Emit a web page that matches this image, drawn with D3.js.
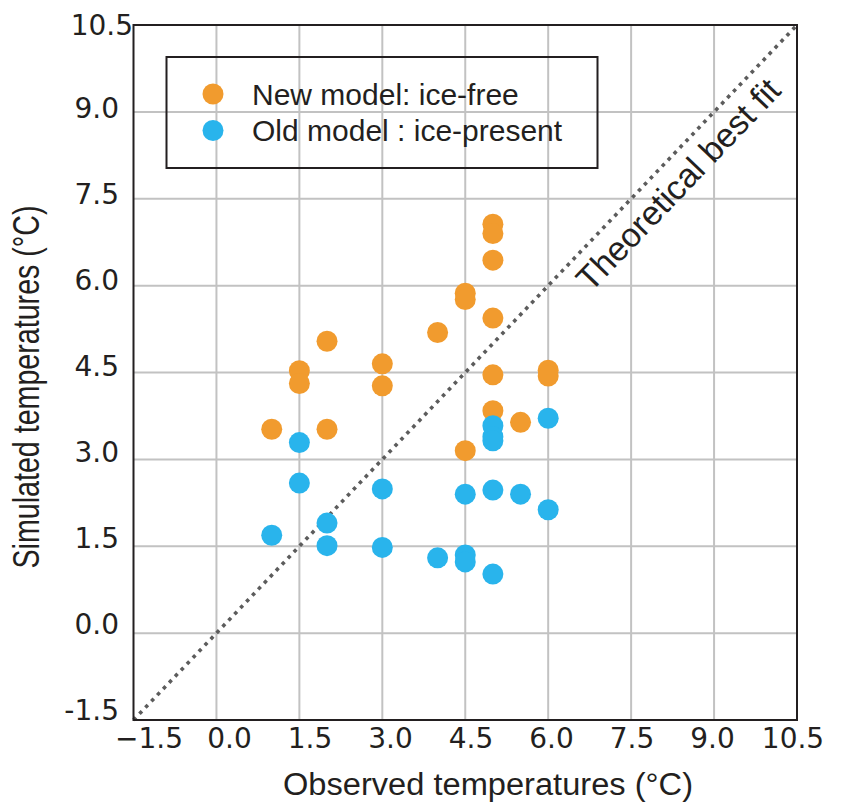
<!DOCTYPE html>
<html lang="en">
<head>
    <meta charset="UTF-8">
    <title>Observed vs simulated temperatures</title>
    <script src="https://d3js.org/d3.v7.min.js"></script>
    <style>
        body { margin: 0; background: #fff; }
        .tick-label { font-family: "DejaVu Sans", sans-serif; font-size: 28px; fill: #231f20; }
        .title { font-family: "Liberation Sans", Arial, sans-serif; fill: #231f20; }
        .grid { stroke: #c2c2c2; stroke-width: 2px; }
        .frame { stroke: #231f20; stroke-width: 2px; fill: none; }
    </style>
</head>
<body>
    <svg width="846" height="805"></svg>
    <script>
        // tick values shared by both axes
        const ticks = [-1.5, 0.0, 1.5, 3.0, 4.5, 6.0, 7.5, 9.0, 10.5];

        // New model: ice-free (orange)
        const newX = [1.0, 1.5, 1.5, 2.0, 2.0, 3.0, 3.0, 4.0, 4.5, 4.5, 4.5, 5.0, 5.0, 5.0, 5.0, 5.0, 5.0, 5.5, 6.0, 6.0];
        const newY = [3.52, 4.53, 4.31, 5.04, 3.52, 4.65, 4.27, 5.19, 5.87, 5.76, 3.15, 7.06, 6.90, 6.44, 5.44, 4.46, 3.84, 3.64, 4.54, 4.44];

        // Old model: ice-present (blue)
        const oldX = [1.0, 1.5, 1.5, 2.0, 2.0, 3.0, 3.0, 4.0, 4.5, 4.5, 4.5, 5.0, 5.0, 5.0, 5.0, 5.0, 5.5, 6.0, 6.0];
        const oldY = [1.69, 3.29, 2.59, 1.90, 1.51, 2.49, 1.48, 1.30, 2.40, 1.35, 1.23, 3.58, 3.39, 3.32, 2.47, 1.02, 2.40, 3.71, 2.13];

        const seriesNames = ["New model: ice-free", "Old model : ice-present"];
        const colors = ["#f19b2e", "#29b4ec"];

        const svg = d3.select("svg");

        const x = d3.scaleLinear().domain([-1.5, 10.5]).range([133.5, 797]);
        const y = d3.scaleLinear().domain([-1.5, 10.5]).range([720, 25]);
        // the printed labels sit on a slightly tighter spacing than the grid
        const xLab = d3.scaleLinear().domain([-1.5, 10.5]).range([149, 793]);
        const yLab = d3.scaleLinear().domain([-1.5, 10.5]).range([710, 22]);

        // grid
        svg.append("g").selectAll("line")
            .data(ticks.slice(1, -1))
            .join("line")
            .attr("class", "grid")
            .attr("x1", d => x(d)).attr("x2", d => x(d))
            .attr("y1", y(-1.5)).attr("y2", y(10.5));
        svg.append("g").selectAll("line")
            .data(ticks.slice(1, -1))
            .join("line")
            .attr("class", "grid")
            .attr("x1", x(-1.5)).attr("x2", x(10.5))
            .attr("y1", d => y(d)).attr("y2", d => y(d));

        // theoretical best fit
        svg.append("line")
            .attr("x1", x(-1.5)).attr("y1", y(-1.5))
            .attr("x2", x(10.5)).attr("y2", y(10.5))
            .attr("stroke", "#5c5c5c")
            .attr("stroke-width", 3.6)
            .attr("stroke-dasharray", "3.6 5");

        const ang = -Math.atan2(y(-1.5) - y(10.5), x(10.5) - x(-1.5)) * 180 / Math.PI;
        svg.append("text")
            .attr("class", "title")
            .attr("transform", `translate(${x(6.3)},${y(6.3)}) rotate(${ang})`)
            .attr("y", 36)
            .attr("font-size", 34)
            .text("Theoretical best fit");

        // frame
        svg.append("rect")
            .attr("class", "frame")
            .attr("x", x(-1.5)).attr("y", y(10.5))
            .attr("width", x(10.5) - x(-1.5))
            .attr("height", y(-1.5) - y(10.5));

        // points
        const newPts = newX.map((v, i) => [v, newY[i]]);
        const oldPts = oldX.map((v, i) => [v, oldY[i]]);
        [newPts, oldPts].forEach((pts, k) => {
            svg.append("g").selectAll("circle")
                .data(pts)
                .join("circle")
                .attr("cx", d => x(d[0]))
                .attr("cy", d => y(d[1]))
                .attr("r", 10.5)
                .attr("fill", colors[k]);
        });

        // tick labels
        svg.append("g").selectAll("text")
            .data(ticks)
            .join("text")
            .attr("class", "tick-label")
            .attr("text-anchor", "middle")
            .attr("x", d => xLab(d))
            .attr("y", 748)
            .text(d => d < 0 ? "\u2212" + Math.abs(d).toFixed(1) : d.toFixed(1));
        svg.append("g").selectAll("text")
            .data(ticks)
            .join("text")
            .attr("class", "tick-label")
            .attr("text-anchor", "end")
            .attr("x", d => d === 10.5 ? 133 : 119)
            .attr("y", d => d === 10.5 ? 35 : yLab(d) + 10)
            .text(d => d.toFixed(1));

        // axis titles
        svg.append("text")
            .attr("class", "title")
            .attr("x", 488).attr("y", 795)
            .attr("text-anchor", "middle")
            .attr("font-size", 31)
            .attr("textLength", 410)
            .attr("lengthAdjust", "spacingAndGlyphs")
            .text("Observed temperatures (\u00B0C)");
        svg.append("text")
            .attr("class", "title")
            .attr("transform", "translate(39,387) rotate(-90)")
            .attr("text-anchor", "middle")
            .attr("font-size", 36)
            .attr("textLength", 363)
            .attr("lengthAdjust", "spacingAndGlyphs")
            .text("Simulated temperatures (\u00B0C)");

        // legend
        const legend = svg.append("g");
        legend.append("rect")
            .attr("class", "frame")
            .attr("fill", "#fff")
            .attr("x", 166.5).attr("y", 57)
            .attr("width", 431).attr("height", 111);
        const items = legend.selectAll("g.item")
            .data(seriesNames)
            .join("g")
            .attr("class", "item")
            .attr("transform", (d, i) => `translate(213,${94 + i * 36.5})`);
        items.append("circle")
            .attr("r", 10.5)
            .attr("fill", (d, i) => colors[i]);
        items.append("text")
            .attr("class", "title")
            .attr("x", 39).attr("y", 10.5)
            .attr("font-size", 30)
            .text(d => d);
    </script>
</body>
</html>
